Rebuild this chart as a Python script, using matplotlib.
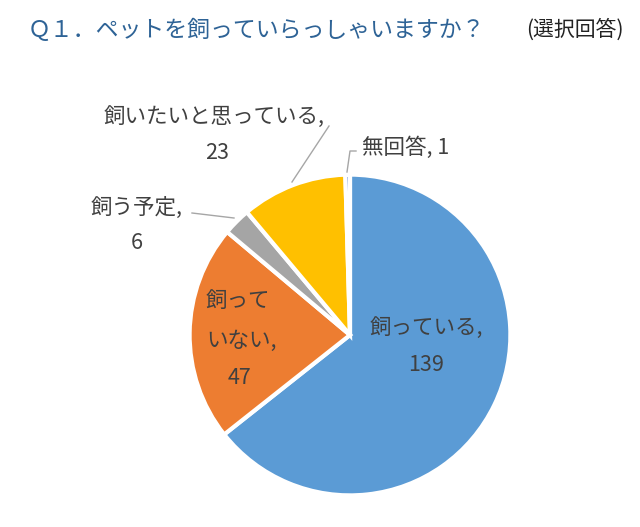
import matplotlib
matplotlib.use("Agg")
import matplotlib.pyplot as plt

plt.rcParams['font.family'] = ['Noto Sans CJK JP', 'DejaVu Sans']

# data
categories = ["飼っている", "飼っていない", "飼う予定", "飼いたいと思っている", "無回答"]
counts = [139, 47, 6, 23, 1]
colors = ["#5B9BD5", "#ED7D31", "#A5A5A5", "#FFC000", "#4472C4"]

W, H = 640, 527
fig = plt.figure(figsize=(W / 100, H / 100), dpi=100)

def fx(x):
    return x / W

def fy(y):
    return 1 - y / H

# pie centre and radius in pixels
cx, cy, r = 350, 335, 162
ax = fig.add_axes([fx(cx - r), fy(cy + r), 2 * r / W, 2 * r / H])
ax.pie(counts, colors=colors, startangle=90, counterclock=False,
       wedgeprops=dict(edgecolor="white", linewidth=3))
ax.set_xlim(-1.01, 1.01)
ax.set_ylim(-1.01, 1.01)
ax.axis("off")

# title
fig.text(fx(28), fy(30), "Ｑ１．ペットを飼っていらっしゃいますか？", color="#2E6396",
         fontsize=16.5, va="center", ha="left")
fig.text(fx(624), fy(30), "(選択回答)", color="#222222", fontsize=15,
         va="center", ha="right")

txt = "#404040"
fs = 15.5
# labels
fig.text(fx(426), fy(328), "飼っている,", color=txt, fontsize=fs, ha="center", va="center")
fig.text(fx(426), fy(365), str(counts[0]), color=txt, fontsize=fs, ha="center", va="center")
fig.text(fx(206), fy(301), "飼って", color=txt, fontsize=fs, ha="left", va="center")
fig.text(fx(206), fy(341), "いない,", color=txt, fontsize=fs, ha="left", va="center")
fig.text(fx(240), fy(378), str(counts[1]), color=txt, fontsize=fs, ha="center", va="center")
fig.text(fx(137), fy(208), "飼う予定,", color=txt, fontsize=fs, ha="center", va="center")
fig.text(fx(137), fy(243), str(counts[2]), color=txt, fontsize=fs, ha="center", va="center")
fig.text(fx(214), fy(117), "飼いたいと思っている,", color=txt, fontsize=fs, ha="center", va="center")
fig.text(fx(217), fy(153), str(counts[3]), color=txt, fontsize=fs, ha="center", va="center")
fig.text(fx(362), fy(148), "無回答, " + str(counts[4]), color=txt, fontsize=fs, ha="left", va="center")

# leader lines
lc = "#A6A6A6"
fig.add_artist(plt.Line2D([fx(329), fx(292)], [fy(126), fy(182)], color=lc, lw=1))
fig.add_artist(plt.Line2D([fx(192), fx(234)], [fy(213), fy(218)], color=lc, lw=1))
fig.add_artist(plt.Line2D([fx(356), fx(350), fx(347)], [fy(151), fy(151), fy(172)], color=lc, lw=1))

fig.savefig("out.png", dpi=100, facecolor="white")
